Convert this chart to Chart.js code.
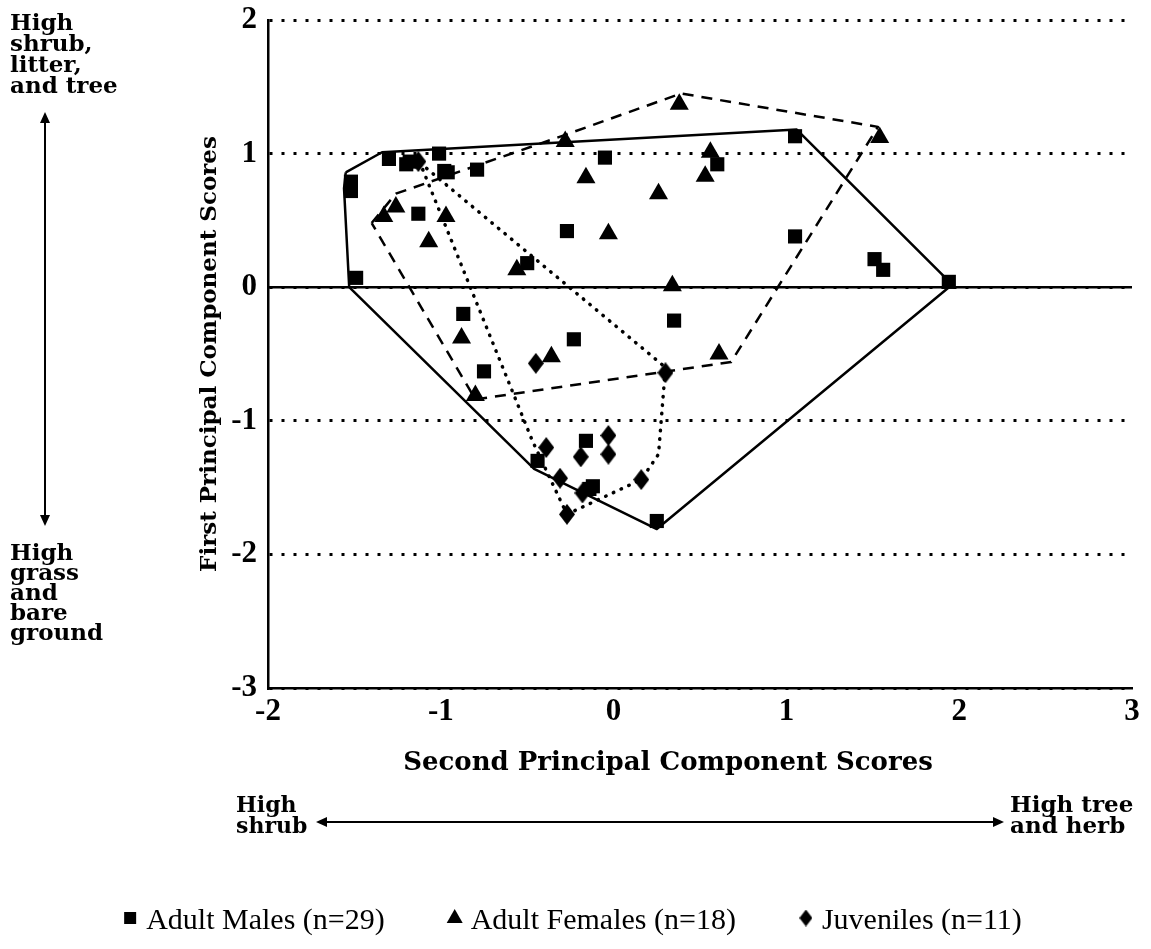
<!DOCTYPE html>
<html>
<head>
<meta charset="utf-8">
<title>Principal component scores</title>
<script src="https://cdn.jsdelivr.net/npm/chart.js"></script>
<style>
  html, body { margin: 0; padding: 0; background: #fff; }
  #wrap { width: 1151px; height: 949px; }
</style>
</head>
<body>
<div id="wrap"><canvas id="pcaChart" width="1151" height="949"></canvas></div>
<script>
// Puntajes: [segundo CP, primer CP]
const adultMales = [
  [-1.52, 0.79], [-1.52, 0.72], [-1.49, 0.07], [-1.30, 0.96], [-1.20, 0.92],
  [-1.18, 0.94], [-1.01, 1.00], [-0.98, 0.87], [-0.96, 0.86], [-0.79, 0.88],
  [-1.13, 0.55], [-0.50, 0.18], [-0.87, -0.20], [-0.27, 0.42], [1.05, 1.13],
  [-0.05, 0.97], [0.60, 0.92], [1.05, 0.38], [0.35, -0.25], [1.51, 0.21],
  [1.56, 0.13], [1.94, 0.04], [-0.23, -0.39], [-0.75, -0.63], [-0.16, -1.15],
  [-0.44, -1.30], [-0.14, -1.51], [-0.12, -1.49], [0.25, -1.75]
];
const adultFemales = [
  [0.38, 1.37], [-0.28, 1.09], [1.54, 1.12], [0.56, 1.01], [0.53, 0.83],
  [-0.16, 0.82], [0.26, 0.70], [-0.03, 0.40], [-0.56, 0.13], [0.34, 0.01],
  [-1.26, 0.60], [-1.33, 0.53], [-0.97, 0.53], [-1.07, 0.34], [-0.88, -0.38],
  [-0.36, -0.52], [-0.80, -0.81], [0.61, -0.50]
];
const juveniles = [
  [-1.13, 0.94], [-0.45, -0.57], [0.30, -0.64], [-0.03, -1.11], [-0.39, -1.20],
  [-0.19, -1.27], [-0.03, -1.25], [-0.31, -1.43], [-0.18, -1.54], [0.16, -1.44],
  [-0.27, -1.70]
];

// Contornos (poligonos) trazados alrededor de cada grupo
const maleHull = [
  [-1.55, 0.86], [-1.34, 1.01], [1.06, 1.18], [1.96, 0.02], [0.25, -1.81],
  [-0.46, -1.36], [-1.53, 0.00], [-1.56, 0.74], [-1.55, 0.86]
];
const femaleHull = [
  [-1.40, 0.48], [-1.26, 0.70], [-0.28, 1.14], [0.39, 1.45], [1.53, 1.20],
  [0.68, -0.56], [-0.80, -0.84], [-1.40, 0.48]
];
const juvenileHull = [
  [-1.12, 0.93], [0.30, -0.60], [0.26, -1.25], [0.16, -1.44], [-0.27, -1.70],
  [-0.47, -1.15], [-1.12, 0.93]
];

const groupLabels = ['Adult Males (n=29)', 'Adult Females (n=18)', 'Juveniles (n=11)'];
const xTitle = 'Second Principal Component Scores';
const yTitle = 'First Principal Component Scores';
const yTopNote = ['High', 'shrub,', 'litter,', 'and tree'];
const yBottomNote = ['High', 'grass', 'and', 'bare', 'ground'];
const xLeftNote = ['High', 'shrub'];
const xRightNote = ['High tree', 'and herb'];

const serif = '"Liberation Serif", "Times New Roman", serif';
const heavySerif = '"DejaVu Serif", "Liberation Serif", serif';

const toXY = pts => pts.map(p => ({ x: p[0], y: p[1] }));

// Rombo alargado como en la figura original
function diamondImage(w, h) {
    const c = document.createElement('canvas');
    c.width = w; c.height = h;
    const g = c.getContext('2d');
    g.fillStyle = '#000';
    g.beginPath();
    g.moveTo(w / 2, 0); g.lineTo(w, h / 2); g.lineTo(w / 2, h); g.lineTo(0, h / 2);
    g.closePath();
    g.fill();
    return c;
}
const diamond = diamondImage(16, 21);
const diamondSmall = diamondImage(13, 17);

function pointSet(label, pts, style, radius) {
    return {
        label: label,
        data: toXY(pts),
        pointStyle: style,
        pointRadius: radius,
        pointHoverRadius: radius,
        backgroundColor: '#000',
        borderColor: '#000',
        borderWidth: 0,
        showLine: false
    };
}

function hullSet(pts, dash, width, cap) {
    return {
        label: 'hull',
        isHull: true,
        data: toXY(pts),
        showLine: true,
        pointRadius: 0,
        borderColor: '#000',
        borderWidth: width,
        borderDash: dash,
        borderCapStyle: cap,
        borderJoinStyle: 'round',
        fill: false,
        tension: 0
    };
}

function doubleArrow(ctx, x1, y1, x2, y2) {
    const a = Math.atan2(y2 - y1, x2 - x1);
    const head = 11, half = 5;
    ctx.beginPath();
    ctx.moveTo(x1 + Math.cos(a) * 4, y1 + Math.sin(a) * 4);
    ctx.lineTo(x2 - Math.cos(a) * 4, y2 - Math.sin(a) * 4);
    ctx.stroke();
    [[x2, y2, a], [x1, y1, a + Math.PI]].forEach(([x, y, t]) => {
        ctx.beginPath();
        ctx.moveTo(x, y);
        ctx.lineTo(x - head * Math.cos(t) + half * Math.sin(t), y - head * Math.sin(t) - half * Math.cos(t));
        ctx.lineTo(x - head * Math.cos(t) - half * Math.sin(t), y - head * Math.sin(t) + half * Math.cos(t));
        ctx.closePath();
        ctx.fill();
    });
}

function legendMarker(ctx, kind, x, y) {
    if (kind === 'rectRot') {
        ctx.drawImage(diamondSmall, x - 6.5, y - 8.5);
        return;
    }
    ctx.beginPath();
    if (kind === 'rect') {
        ctx.rect(x - 6, y - 6, 12, 12);
    } else {
        ctx.moveTo(x, y - 9); ctx.lineTo(x + 8, y + 5); ctx.lineTo(x - 8, y + 5);
        ctx.closePath();
    }
    ctx.fill();
}

// Linea del cero, titulo del eje x, notas de los ejes y leyenda
const notesPlugin = {
    id: 'notes',
    beforeDatasetsDraw(chart) {
        const { ctx, chartArea, scales } = chart;
        const y0 = scales.y.getPixelForValue(0);
        ctx.save();
        ctx.strokeStyle = '#000';
        ctx.lineWidth = 2.5;
        ctx.beginPath();
        ctx.moveTo(chartArea.left, y0);
        ctx.lineTo(chartArea.right, y0);
        ctx.stroke();
        ctx.restore();
    },
    afterDraw(chart) {
        const { ctx, chartArea } = chart;
        ctx.save();
        ctx.fillStyle = '#000';
        ctx.strokeStyle = '#000';
        ctx.lineWidth = 2;

        // titulo del eje x
        ctx.textAlign = 'center';
        ctx.textBaseline = 'middle';
        ctx.font = 'bold 26px ' + heavySerif;
        ctx.fillText(xTitle, chartArea.left + 400, 763);

        ctx.textAlign = 'left';
        ctx.textBaseline = 'alphabetic';
        ctx.font = 'bold 23px ' + heavySerif;
        yTopNote.forEach((t, i) => ctx.fillText(t, 10, 30 + i * 21));
        yBottomNote.forEach((t, i) => ctx.fillText(t, 10, 560 + i * 20));
        doubleArrow(ctx, 45, 112, 45, 526);
        ctx.font = 'bold 22px ' + heavySerif;
        xLeftNote.forEach((t, i) => ctx.fillText(t, 236, 812 + i * 21));
        ctx.font = 'bold 23px ' + heavySerif;
        xRightNote.forEach((t, i) => ctx.fillText(t, 1010, 812 + i * 21));
        doubleArrow(ctx, 316, 822, 1004, 822);

        // leyenda
        const items = chart.data.datasets.filter(d => !d.isHull);
        ctx.font = '30px ' + serif;
        const gap = 62;
        const widths = items.map(d => 24 + ctx.measureText(d.label).width);
        const total = widths.reduce((s, w) => s + w, 0) + gap * (items.length - 1);
        let x = 574 - total / 2;
        const ly = 921;
        ctx.textBaseline = 'middle';
        items.forEach((d, i) => {
            legendMarker(ctx, d.legendMarker, x + 6, ly - 3);
            ctx.fillText(d.label, x + 22, ly);
            x += widths[i] + gap;
        });
        ctx.restore();
    }
};

const ctxPca = document.getElementById('pcaChart').getContext('2d');

const males = pointSet(groupLabels[0], adultMales, 'rect', 10);
males.legendMarker = 'rect';
const females = pointSet(groupLabels[1], adultFemales, 'triangle', 11);
females.legendMarker = 'triangle';
const juvs = pointSet(groupLabels[2], juveniles, diamond, 10);
juvs.legendMarker = 'rectRot';

const pcaChart = new Chart(ctxPca, {
    type: 'scatter',
    data: {
        datasets: [
            males, females, juvs,
            hullSet(maleHull, [], 2.5, 'butt'),
            hullSet(femaleHull, [11, 8], 2.5, 'butt'),
            hullSet(juvenileHull, [0.5, 8], 3.5, 'round')
        ]
    },
    options: {
        responsive: false,
        animation: false,
        devicePixelRatio: 1,
        layout: { padding: { left: 180, right: 19, top: 20, bottom: 0 } },
        plugins: {
            legend: { display: false },
            tooltip: { enabled: false }
        },
        scales: {
            x: {
                type: 'linear',
                min: -2,
                max: 3,
                afterFit: scale => { scale.height = 261; },
                ticks: {
                    stepSize: 1,
                    padding: 0,
                    color: '#000',
                    font: { family: serif, size: 31, weight: 'bold', lineHeight: 1 }
                },
                grid: { display: false },
                border: { display: true, color: '#000', width: 2.5 },
                title: { display: false, text: xTitle }
            },
            y: {
                type: 'linear',
                min: -3,
                max: 2,
                afterFit: scale => { scale.width = 88; },
                ticks: {
                    stepSize: 1,
                    padding: 4,
                    color: '#000',
                    font: { family: serif, size: 31, weight: 'bold', lineHeight: 1 }
                },
                grid: {
                    display: true,
                    drawTicks: true,
                    tickLength: 7,
                    tickColor: 'rgba(0,0,0,0)',
                    color: '#000',
                    lineWidth: 3
                },
                border: { display: true, color: '#000', width: 2.5, dash: [3, 9] },
                title: {
                    display: true,
                    text: yTitle,
                    color: '#000',
                    font: { family: heavySerif, size: 23, weight: 'bold' },
                    padding: { top: 16, bottom: 0 }
                }
            }
        }
    },
    plugins: [notesPlugin]
});
</script>
</body>
</html>
